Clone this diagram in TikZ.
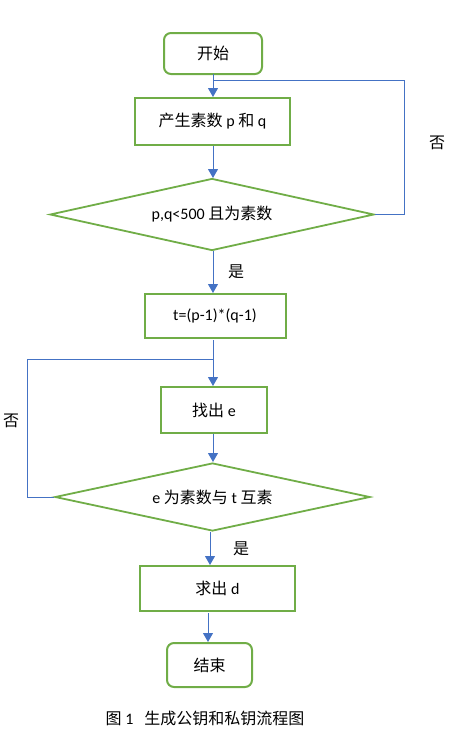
\documentclass[tikz,border=0pt]{standalone}
\usepackage{fontspec}
\setmainfont{Carlito}
\newfontfamily\cjk{Noto Sans CJK SC}
\usetikzlibrary{shapes.geometric,arrows.meta}
\definecolor{grn}{HTML}{70AD47}
\definecolor{blu}{HTML}{4472C4}
\newcommand\zh[1]{{\cjk #1}}
\begin{document}
\begin{tikzpicture}[x=1pt,y=-1pt,
  every node/.style={font=\fontsize{16}{19}\selectfont, inner sep=0pt},
  box/.style={draw=grn, line width=2pt, fill=white},
  term/.style={box, rounded corners=7pt},
  dec/.style={diamond, aspect=4.5, draw=grn, line width=1.8pt},
  conn/.style={draw=blu, line width=1pt},
  flow/.style={conn, -{Triangle[width=10pt,length=9pt]}},
  lbl/.style={font=\fontsize{16}{19}\selectfont\cjk}]
\useasboundingbox (0,0) rectangle (455,740);

\node[term, minimum width=98pt, minimum height=41pt] (start) at (213,53.5) {\zh{开始}};
\node[box, minimum width=155pt, minimum height=47pt] (gen) at (212.5,121.5) {\zh{产生素数} p \zh{和} q};
\node[dec, minimum width=324pt, minimum height=72pt] (d1) at (212,214.5) {p,q<500 \zh{且为素数}};
\node[box, minimum width=141pt, minimum height=44pt] (t) at (215,316) {t=(p-1)*(q-1)};
\node[box, minimum width=106pt, minimum height=46pt] (fe) at (214,410) {\zh{找出} e};
\node[dec, minimum width=315pt, minimum height=68pt] (d2) at (212.5,497) {e \zh{为素数与} t \zh{互素}};
\node[box, minimum width=155pt, minimum height=45pt] (dd) at (217.5,588.5) {\zh{求出} d};
\node[term, minimum width=85pt, minimum height=44pt] (end) at (209.5,665) {\zh{结束}};

\coordinate (j1) at (213,80);
\coordinate (r1) at (404,80);
\coordinate (j2) at (213,359);
\coordinate (l2) at (27,359);

% main flow
\draw[flow] (213,74) -- (213,97);
\draw[flow] (213,146) -- (213,178);
\draw[flow] (213,251) -- (213,293);
\draw[flow] (213,340) -- (213,386);
\draw[flow] (213,434) -- (213,462);
\draw[flow] (210,532) -- (210,565);
\draw[flow] (208,613) -- (208,642);

% loops
\draw[conn] (d1.east) -| (r1) -- (j1);
\draw[conn] (d2.west) -| (l2) -- (j2);

% labels
\node[lbl] (no1) at (437,143) {否};
\node[lbl] (yes1) at (236,272) {是};
\node[lbl] (no2) at (11,421) {否};
\node[lbl] (yes2) at (241,549) {是};

\node (cap) at (205,718) {\zh{图}\ 1\ \ \ \zh{生成公钥和私钥流程图}};
\end{tikzpicture}
\end{document}
